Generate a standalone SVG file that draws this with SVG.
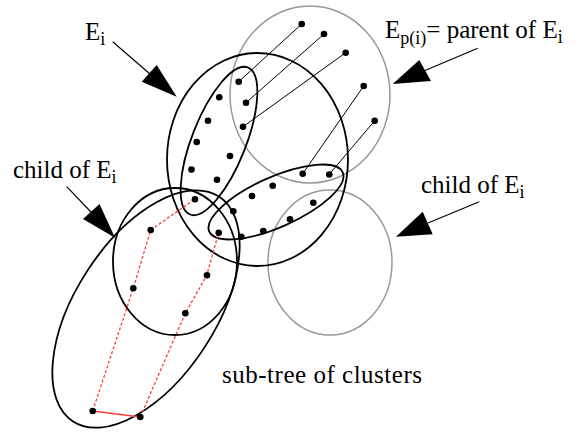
<svg xmlns="http://www.w3.org/2000/svg" width="582" height="432" viewBox="0 0 582 432">
<style>
.blk{fill:none;stroke:#000;stroke-width:1.8}
.gry{fill:none;stroke:#999;stroke-width:1.5}
.ln{stroke:#000;stroke-width:1;fill:none}
.arr{stroke:#000;stroke-width:1.2;fill:none}
.red{stroke:#ff3b3b;stroke-width:1.3;fill:none;stroke-dasharray:3,2}
.reds{stroke:#ff3b3b;stroke-width:1.3;fill:none}
.dot{fill:#000}
text{font-family:"Liberation Serif","Times New Roman",serif;font-size:25px;fill:#000}
.sub{font-size:18px}
</style>
<rect width="582" height="432" fill="#fff"/>
<g id="parent-cluster"><ellipse class="gry" cx="310" cy="94.5" rx="80" ry="88.5"/></g>
<g id="child-cluster-right"><ellipse class="gry" cx="330" cy="262.5" rx="62" ry="72.5"/></g>
<g id="cluster-Ei"><ellipse class="blk" cx="257.5" cy="159.5" rx="90.5" ry="106.5"/></g>
<g id="subcluster-upper"><ellipse class="blk" cx="219" cy="141" rx="27" ry="79" transform="rotate(21.5 219 141)"/></g>
<g id="subcluster-lower"><ellipse class="blk" cx="276" cy="202" rx="73" ry="25" transform="rotate(-24 276 202)"/></g>
<g id="child-cluster-left"><ellipse class="blk" cx="175" cy="261.5" rx="62" ry="73.5"/></g>
<g id="subtree"><ellipse class="blk" cx="146" cy="309" rx="70" ry="134" transform="rotate(33 146 309)"/></g>
<g id="connectors">
<line class="ln" x1="238.7" y1="81.7" x2="301.7" y2="24"/>
<line class="ln" x1="246" y1="102.7" x2="324" y2="34"/>
<line class="ln" x1="243" y1="126.7" x2="345.7" y2="52.7"/>
<line class="ln" x1="302.7" y1="173.7" x2="363.7" y2="86"/>
<line class="ln" x1="329.3" y1="174.3" x2="374.7" y2="120.7"/>
<polyline class="red" points="92.7,411 133.3,288.3 150.7,230 195,199"/>
<polyline class="red" points="140.3,417 185.3,313.3 206.7,275.3 218.7,232.7"/>
<line class="reds" x1="92.7" y1="411" x2="140.3" y2="417"/>
<line class="arr" x1="112.7" y1="41.7" x2="150" y2="74"/>
<polygon points="141.7,81.7 156.7,65 176.7,96.7"/>
<line class="arr" x1="477.7" y1="48.3" x2="425" y2="70.5"/>
<polygon points="419.3,60 431,81 392.7,84"/>
<line class="arr" x1="66.7" y1="186.7" x2="91" y2="212"/>
<polygon points="83,219 99.5,204 115,237.7"/>
<line class="arr" x1="479.3" y1="201.7" x2="428" y2="223"/>
<polygon points="422.7,211.7 432.7,234.3 396,236.7"/>
</g>
<g id="points">
<circle class="dot" cx="301.7" cy="24" r="3.3"/>
<circle class="dot" cx="324" cy="34" r="3.3"/>
<circle class="dot" cx="345.7" cy="52.7" r="3.3"/>
<circle class="dot" cx="363.7" cy="86" r="3.3"/>
<circle class="dot" cx="374.7" cy="120.7" r="3.3"/>
<circle class="dot" cx="238.7" cy="81.7" r="3.3"/>
<circle class="dot" cx="246" cy="102.7" r="3.3"/>
<circle class="dot" cx="243" cy="126.7" r="3.3"/>
<circle class="dot" cx="219.3" cy="97.3" r="3.3"/>
<circle class="dot" cx="208" cy="120.7" r="3.3"/>
<circle class="dot" cx="196.7" cy="142" r="3.3"/>
<circle class="dot" cx="230" cy="156" r="3.3"/>
<circle class="dot" cx="191.5" cy="169.6" r="3.3"/>
<circle class="dot" cx="217" cy="179.7" r="3.3"/>
<circle class="dot" cx="302.7" cy="173.8" r="3.3"/>
<circle class="dot" cx="329.3" cy="174.5" r="3.3"/>
<circle class="dot" cx="272.7" cy="185.7" r="3.3"/>
<circle class="dot" cx="252" cy="196" r="3.3"/>
<circle class="dot" cx="313.3" cy="202.7" r="3.3"/>
<circle class="dot" cx="195" cy="199.2" r="3.3"/>
<circle class="dot" cx="233.3" cy="211.3" r="3.3"/>
<circle class="dot" cx="290" cy="219.3" r="3.3"/>
<circle class="dot" cx="263.3" cy="231" r="3.3"/>
<circle class="dot" cx="241.3" cy="236.8" r="3.3"/>
<circle class="dot" cx="218.7" cy="232.8" r="3.3"/>
<circle class="dot" cx="150.7" cy="230" r="3.3"/>
<circle class="dot" cx="207" cy="275.3" r="3.3"/>
<circle class="dot" cx="133.3" cy="288.3" r="3.3"/>
<circle class="dot" cx="185.3" cy="313.3" r="3.3"/>
<circle class="dot" cx="92.7" cy="411" r="3.3"/>
<circle class="dot" cx="140.3" cy="417" r="3.3"/>
</g>
<g id="labels">
<text x="85" y="40">E<tspan class="sub" dy="5">i</tspan></text>
<text x="385" y="38">E<tspan class="sub" dy="6">p(i)</tspan><tspan dy="-6">= parent of E</tspan><tspan class="sub" dy="5">i</tspan></text>
<text x="13" y="178">child of E<tspan class="sub" dy="5">i</tspan></text>
<text x="421" y="193">child of E<tspan class="sub" dy="5">i</tspan></text>
<text x="222" y="383" textLength="200" lengthAdjust="spacing">sub-tree of clusters</text>
</g>
</svg>
